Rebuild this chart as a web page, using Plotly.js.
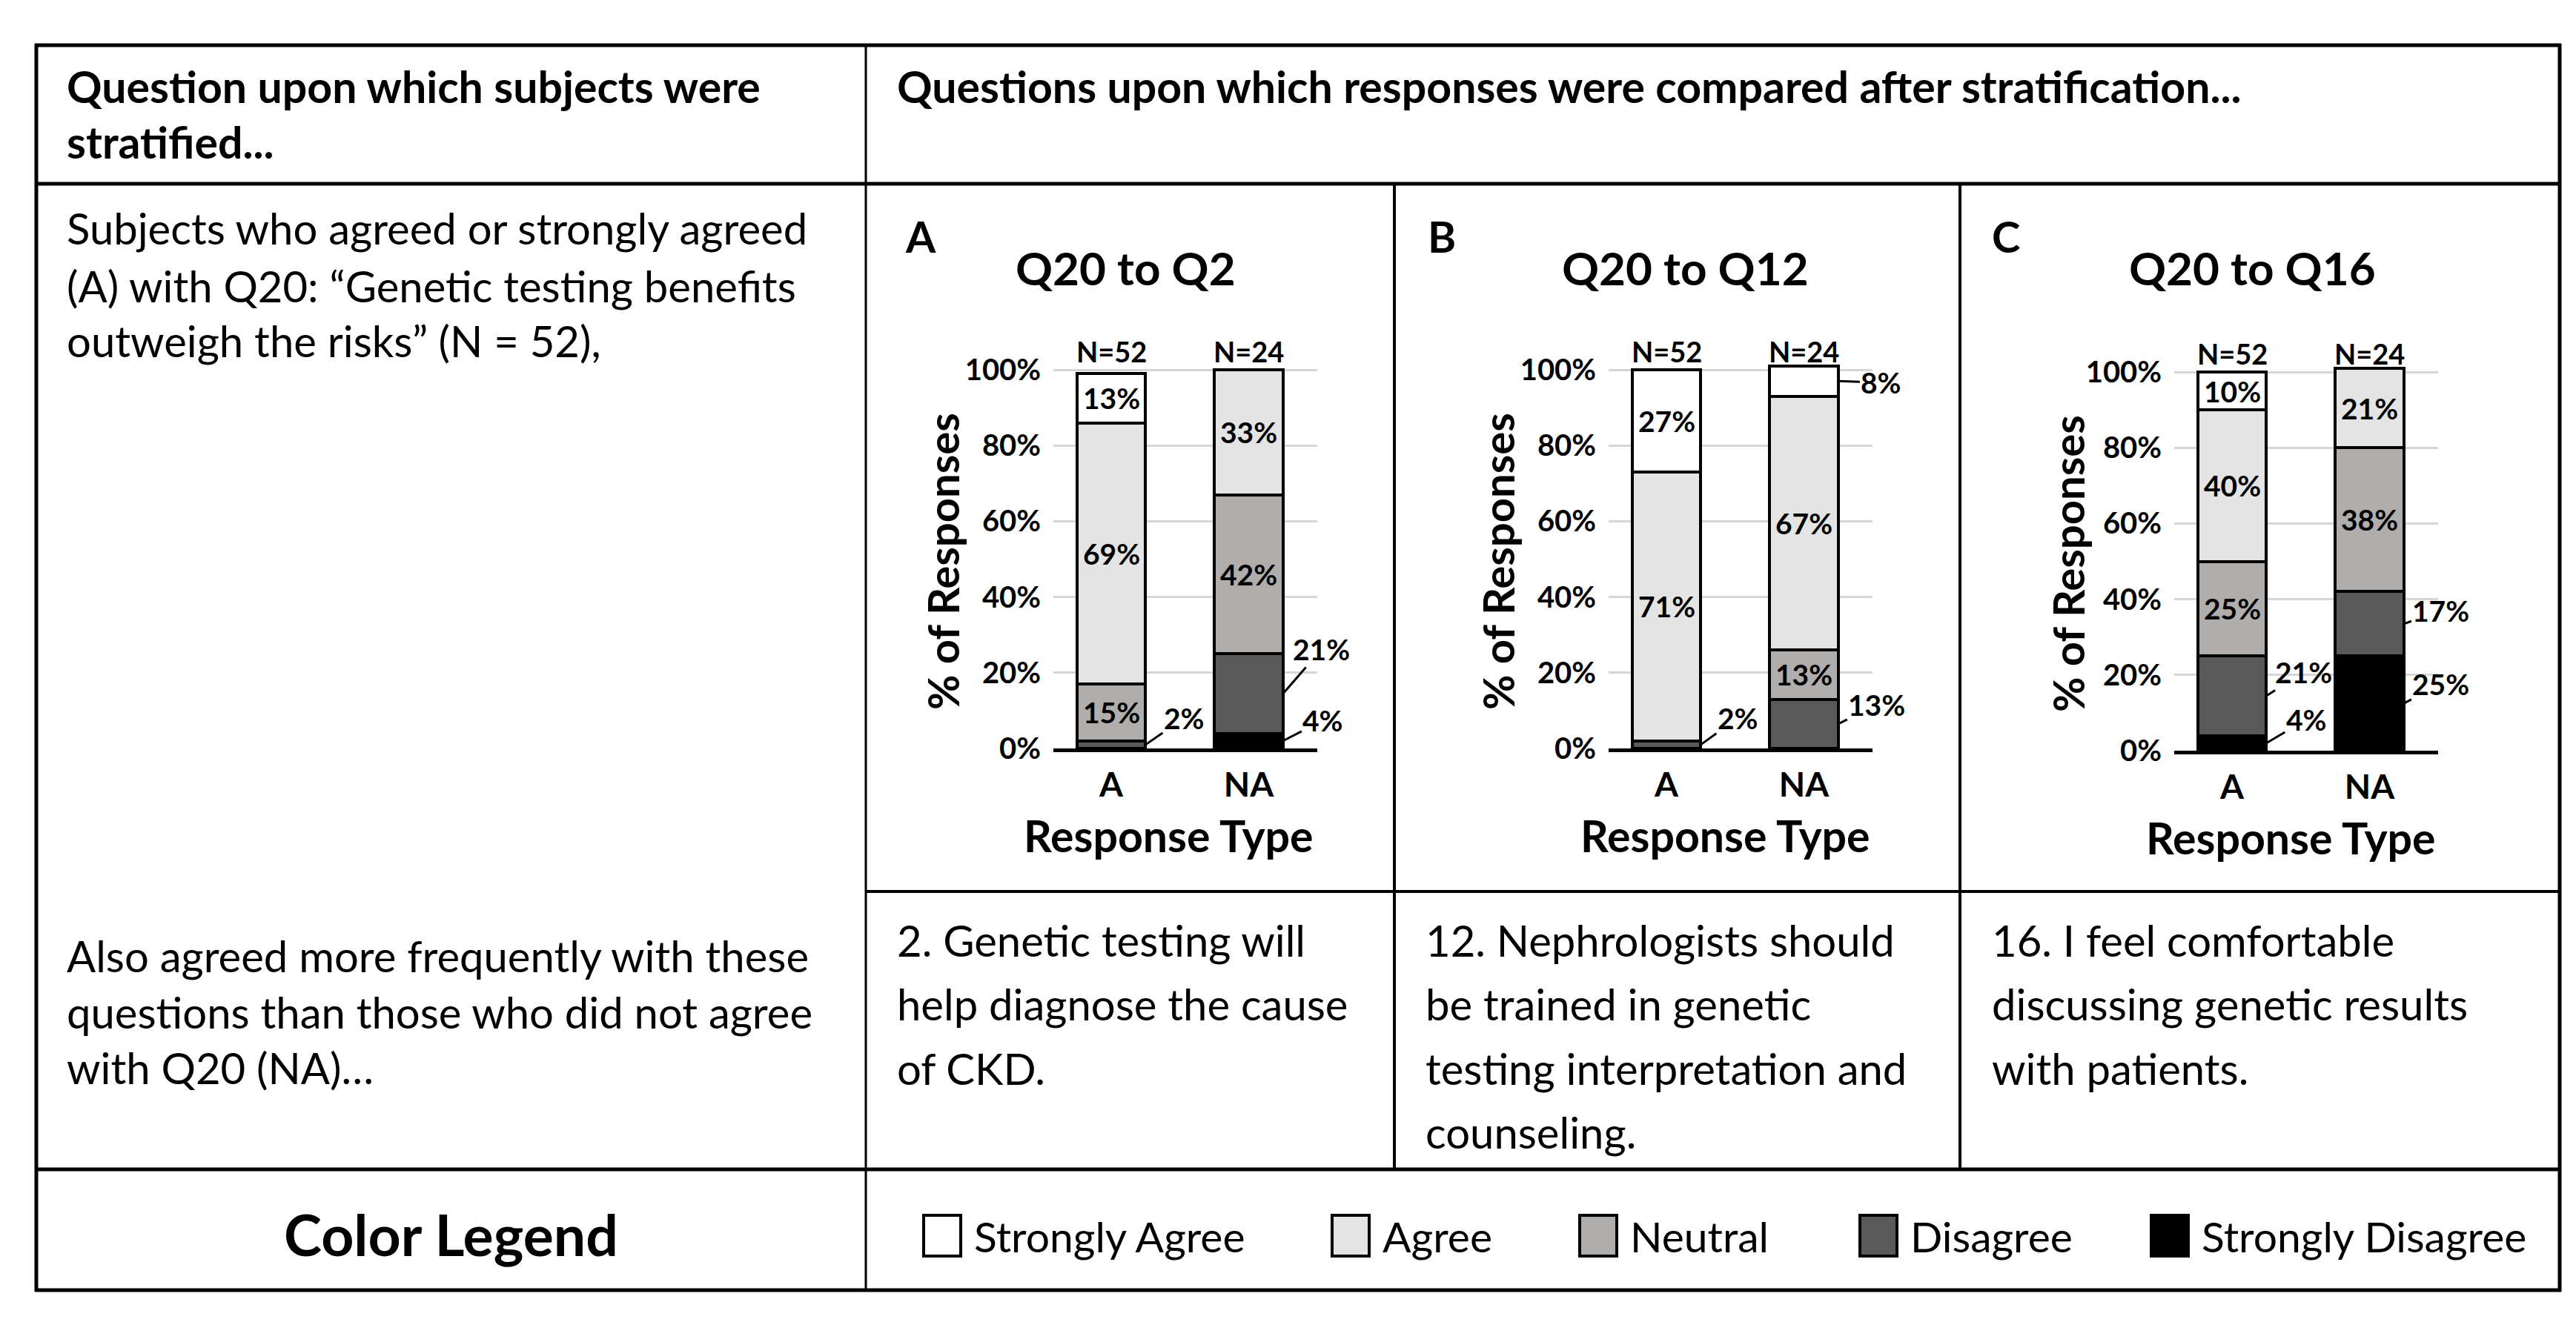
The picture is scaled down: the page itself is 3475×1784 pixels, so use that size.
<!DOCTYPE html>
<html><head><meta charset="utf-8">
<script src="https://cdn.plot.ly/plotly-3.0.1.min.js"></script>
<style>html,body{margin:0;padding:0;background:#fff}#chart{width:3475px;height:1784px}</style>
</head><body><div id="chart"></div>
<script>
// ---------------- data ----------------
const groups = ['A', 'NA'];
const responseCategories = ['Strongly Agree', 'Agree', 'Neutral', 'Disagree', 'Strongly Disagree'];
const groupN = [52, 24];
const yTickValues = [0, 20, 40, 60, 80, 100];
const yTickLabels = ['0%', '20%', '40%', '60%', '80%', '100%'];
// percentages, in the order of responseCategories
const q2_A = [13, 69, 15, 2, 0];
const q2_NA = [0, 33, 42, 21, 4];
const q12_A = [27, 71, 0, 2, 0];
const q12_NA = [8, 67, 13, 13, 0];
const q16_A = [10, 40, 25, 21, 4];
const q16_NA = [0, 21, 38, 17, 25];
const panelLetters = ['A', 'B', 'C'];
const panelTitles = ['Q20 to Q2', 'Q20 to Q12', 'Q20 to Q16'];
const q2Text = ['2. Genetic testing will', 'help diagnose the cause', 'of CKD.'];
const q12Text = ['12. Nephrologists should', 'be trained in genetic', 'testing interpretation and', 'counseling.'];
const q16Text = ['16. I feel comfortable', 'discussing genetic results', 'with patients.'];
const stratHeader = ['Question upon which subjects were', 'stratified...'];
const compareHeader = 'Questions upon which responses were compared after stratification...';
const subjectsText = ['Subjects who agreed or strongly agreed', '(A) with Q20: \u201cGenetic testing benefits', 'outweigh the risks\u201d (N = 52),'];
const alsoText = ['Also agreed more frequently with these', 'questions than those who did not agree', 'with Q20 (NA)\u2026'];
const legendTitle = 'Color Legend';
const yAxisTitle = '% of Responses';
const xAxisTitle = 'Response Type';

// ---------------- style / layout ----------------
const W = 3475, H = 1784;
const F = 'Lato, Carlito, "Open Sans", sans-serif';
const colors = ['#ffffff', '#e4e4e4', '#b0adad', '#595959', '#000000'];
const BODY = 58, HEAD = 59, LABEL = 39, LEG = 57;
const PXU = 5.11;   // pixels per percent
const panelData = [[q2_A, q2_NA], [q12_A, q12_NA], [q16_A, q16_NA]];
const panelText = [q2Text, q12Text, q16Text];
const panelStyle = [
  {xc: 1499, y0: 1010, letterX: 1219, titleX: 1518, ytX: 1271, xtX: 1576, qX: 1208},
  {xc: 2248, y0: 1010, letterX: 1924, titleX: 2273, ytX: 2020, xtX: 2327, qX: 1921},
  {xc: 3011, y0: 1013, letterX: 2685, titleX: 3038, ytX: 2789, xtX: 3090, qX: 2685}
];
const UNIT = 185.5, XR = [-0.42, 1.5], YMAX = 102;
// leader-label offsets (px) for labels placed outside bars: key panel-group-category
const outOffsets = {
  '0-0-3': [52, -36], '0-1-3': [52, -60], '0-1-4': [54, -28],
  '1-0-3': [50, -36], '1-1-0': [58, 2], '1-1-3': [52, -26],
  '2-0-3': [50, -32], '2-0-4': [54, -32], '2-1-3': [50, -18], '2-1-4': [50, -26]
};

const px = x => x / W, py = y => 1 - y / H;
function txt(text, x, yc, size, bold, anchor, angle) {
  return {text: text, x: px(x), y: py(yc), xref: 'paper', yref: 'paper',
    xanchor: anchor || 'left', yanchor: 'middle', showarrow: false, textangle: angle || 0,
    font: {family: F, size: size, color: '#000', weight: bold ? 700 : 400}};
}

const traces = [];
const annotations = [];
const layout = {
  width: W, height: H, margin: {l: 0, r: 0, t: 0, b: 0},
  paper_bgcolor: '#fff', plot_bgcolor: 'rgba(0,0,0,0)',
  barmode: 'stack', showlegend: false, font: {family: F, color: '#000'},
  shapes: [], annotations: annotations
};

panelData.forEach((pd, p) => {
  const s = panelStyle[p];
  const xa = p === 0 ? 'x' : 'x' + (p + 1), ya = p === 0 ? 'y' : 'y' + (p + 1);
  const xKey = p === 0 ? 'xaxis' : 'xaxis' + (p + 1), yKey = p === 0 ? 'yaxis' : 'yaxis' + (p + 1);
  const xl = s.xc + XR[0] * UNIT, xr = s.xc + XR[1] * UNIT;
  layout[xKey] = {domain: [px(xl), px(xr)], anchor: ya, type: 'category', range: XR,
    showline: true, linecolor: '#000', linewidth: 5, ticks: '', showgrid: false, zeroline: false,
    tickfont: {family: F, size: 46, weight: 700, color: '#000'}, ticklabelstandoff: 5, fixedrange: true};
  layout[yKey] = {domain: [py(s.y0), py(s.y0 - YMAX * PXU)], anchor: xa, range: [0, YMAX],
    tickvals: yTickValues, ticktext: yTickLabels, showgrid: true, gridcolor: '#d6d6d6', gridwidth: 3,
    zeroline: false, showline: false, ticks: '', ticklabelstandoff: 16,
    tickfont: {family: F, size: 40, weight: 700, color: '#000'}, fixedrange: true};
  // stacked bars, bottom = Strongly Disagree
  for (let c = responseCategories.length - 1; c >= 0; c--) {
    traces.push({type: 'bar', name: responseCategories[c], x: groups,
      y: pd.map(g => g[c] === 0 ? null : g[c]), xaxis: xa, yaxis: ya, width: 0.5,
      marker: {color: colors[c], line: {color: '#000', width: 4}}, hoverinfo: 'skip'});
  }
  // value labels
  pd.forEach((g, gi) => {
    let base = 0;
    for (let c = responseCategories.length - 1; c >= 0; c--) {
      const v = g[c];
      if (!v) continue;
      const mid = base + v / 2;
      base += v;
      const outside = c >= 3 || v < 9;
      if (outside) {
        const off = outOffsets[p + '-' + gi + '-' + c] || [50, -32];
        annotations.push({text: v + '%', x: gi + 0.25, y: mid, xref: xa, yref: ya,
          showarrow: true, arrowhead: 0, arrowwidth: 3, arrowcolor: '#000', standoff: 0,
          ax: off[0], ay: off[1], font: {family: F, size: LABEL, weight: 700, color: '#000'}});
      } else {
        annotations.push({text: v + '%', x: gi, y: mid, xref: xa, yref: ya, showarrow: false,
          xanchor: 'center', yanchor: 'middle', font: {family: F, size: LABEL, weight: 700, color: '#000'}});
      }
    }
    annotations.push({text: 'N=' + groupN[gi], x: gi, y: 100, xref: xa, yref: ya, showarrow: false,
      xanchor: 'center', yanchor: 'middle', yshift: 25, font: {family: F, size: 38, weight: 700, color: '#000'}});
  });
  annotations.push(txt(panelLetters[p], s.letterX, 319, 58, true, 'left'));
  annotations.push(txt(panelTitles[p], s.titleX, 361, 62, true, 'center'));
  annotations.push(txt(yAxisTitle, s.ytX, s.y0 - 252, 58, true, 'center', -90));
  annotations.push(txt(xAxisTitle, s.xtX, s.y0 + 117, 59, true, 'center'));
  panelText[p].forEach((line, i) => annotations.push(txt(line, s.qX, [1268, 1354, 1441, 1527][i], BODY, false, 'left')));
});

// header and left column text
stratHeader.forEach((line, i) => annotations.push(txt(line, 88, [117, 192][i], HEAD, true, 'left')));
annotations.push(txt(compareHeader, 1208, 117, HEAD, true, 'left'));
subjectsText.forEach((line, i) => annotations.push(txt(line, 88, [308, 385, 460][i], BODY, false, 'left')));
alsoText.forEach((line, i) => annotations.push(txt(line, 88, [1289, 1365, 1440][i], BODY, false, 'left')));

// color legend row
annotations.push(txt(legendTitle, 608, 1665, 77, true, 'center'));
const swatchX = [1246, 1797, 2131, 2509, 2902];
responseCategories.forEach((cat, i) => {
  layout.shapes.push({type: 'rect', xref: 'paper', yref: 'paper', x0: px(swatchX[i]), x1: px(swatchX[i] + 50),
    y0: py(1695), y1: py(1640), fillcolor: colors[i], line: {color: '#000', width: 4}});
  annotations.push(txt(cat, swatchX[i] + 66, 1668, LEG, false, 'left'));
});

// table rules
function hline(y, x0, x1, w) { layout.shapes.push({type: 'line', xref: 'paper', yref: 'paper', x0: px(x0), x1: px(x1), y0: py(y), y1: py(y), line: {color: '#000', width: w}}); }
function vline(x, y0, y1, w) { layout.shapes.push({type: 'line', xref: 'paper', yref: 'paper', x0: px(x), x1: px(x), y0: py(y0), y1: py(y1), line: {color: '#000', width: w}}); }
hline(61, 47, 3455, 5);
hline(248, 47, 3455, 5);
hline(1203, 1168, 3453, 4);
hline(1578, 47, 3455, 5);
hline(1741, 47, 3455, 5);
vline(49, 59, 1743, 5);
vline(3453, 59, 1743, 5);
vline(1168, 59, 1743, 3);
vline(1881, 248, 1578, 4);
vline(2644, 248, 1578, 4);

Plotly.newPlot('chart', traces, layout, {staticPlot: true, displayModeBar: false});
</script></body></html>
